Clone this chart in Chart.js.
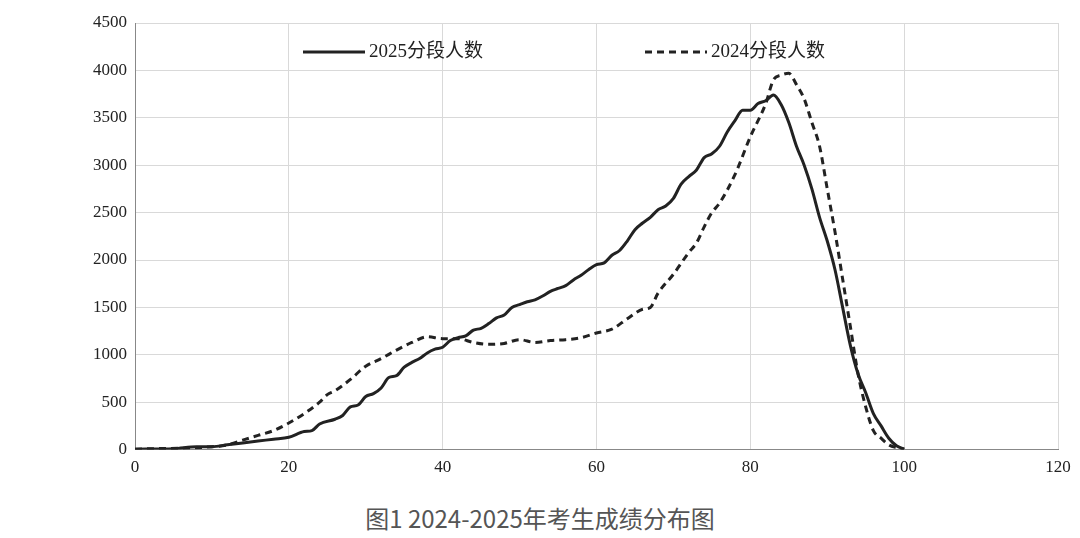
<!DOCTYPE html>
<html><head><meta charset="utf-8">
<script src="https://cdn.jsdelivr.net/npm/chart.js@4/dist/chart.umd.min.js"></script>
<style>
body{margin:0;background:#fff;width:1080px;height:538px;overflow:hidden}
#wrap{position:absolute;left:0;top:0;width:1080px;height:486px}
#cap{position:absolute;left:0;width:1080px;top:500px;text-align:center;font-family:"Noto Sans CJK SC","Liberation Serif",serif;font-size:24px;color:#555}
</style></head><body>
<div id="wrap"><canvas id="c"></canvas></div>
<div id="cap">图1 2024-2025年考生成绩分布图</div>
<script>
const scores2025=[0,5,8,10,12,14,16,18,20,22,23,24,26,27,28,29,30,31,32,33,34,35,36,37,38,39,40,41,42,43,44,45,46,47,48,49,50,51,52,53,54,55,56,57,58,59,60,61,62,63,64,65,66,67,68,69,70,71,72,73,74,75,76,77,78,79,80,81,82,83,84,85,86,87,88,89,90,91,92,93,94,95,96,97,98,99,100];
const count2025=[5,10,30,30,50,70,90,110,130,190,200,270,320,360,450,470,560,590,650,760,780,870,920,960,1020,1060,1080,1150,1180,1200,1260,1280,1330,1390,1420,1500,1530,1560,1580,1620,1670,1700,1730,1790,1840,1900,1950,1970,2050,2100,2200,2320,2390,2450,2530,2570,2650,2800,2880,2950,3080,3120,3200,3350,3470,3580,3580,3650,3680,3740,3640,3450,3200,3000,2750,2450,2200,1900,1500,1100,800,600,380,250,120,40,5];
const scores2024=[0,10,12,14,16,18,20,22,24,25,26,28,30,32,34,36,38,40,42,44,46,48,50,52,54,56,58,60,62,64,66,67,68,70,72,73,74,75,76,78,80,82,83,84,85,86,87,88,89,90,91,92,93,94,95,96,97,98,99,100];
const count2024=[5,30,50,100,150,200,280,380,500,580,620,740,880,960,1050,1130,1190,1170,1170,1130,1110,1120,1160,1130,1150,1160,1180,1230,1270,1380,1480,1500,1650,1850,2080,2180,2350,2500,2600,2900,3300,3650,3900,3950,3970,3850,3700,3450,3200,2750,2300,1800,1300,800,450,200,120,50,20,5];
const xTicks=[0,20,40,60,80,100,120];
const pts=(xs,ys)=>xs.map((x,i)=>({x,y:ys[i]}));
const legendPlugin={id:'lg',afterDraw(ch){const c=ch.ctx;const items=[[0,303,'2025分段人数'],[1,645,'2024分段人数']];
c.save();c.font='19px "Liberation Serif","Noto Sans CJK SC",serif';c.fillStyle='#222';c.textBaseline='middle';
items.forEach(([i,x,t])=>{const d=ch.data.datasets[i];c.strokeStyle=d.borderColor;c.lineWidth=d.borderWidth;c.setLineDash(d.borderDash||[]);c.beginPath();c.moveTo(x,52);c.lineTo(x+62,52);c.stroke();c.setLineDash([]);c.fillText(t,x+66,52);});c.restore();}};
new Chart(document.getElementById('c'),{type:'line',
data:{datasets:[
{label:'2025分段人数',data:pts(scores2025,count2025),borderColor:'#222',borderWidth:3,pointRadius:0,tension:0.4,cubicInterpolationMode:'monotone'},
{label:'2024分段人数',data:pts(scores2024,count2024),borderColor:'#222',borderWidth:3,borderDash:[7,5],pointRadius:0,tension:0.4,cubicInterpolationMode:'monotone'}]},
options:{responsive:true,maintainAspectRatio:false,animation:false,
layout:{padding:{left:0,right:22,top:23,bottom:0}},
plugins:{legend:{display:false},tooltip:{enabled:false}},
scales:{x:{type:'linear',min:0,max:120,afterBuildTicks:a=>{a.ticks=xTicks.map(v=>({value:v}))},
grid:{color:'#d9d9d9',drawTicks:false},border:{color:'#888'},ticks:{padding:8,color:'#222',font:{family:'Liberation Serif',size:17}}},
y:{min:0,max:4500,ticks:{stepSize:500,padding:8,color:'#222',callback:v=>String(v),font:{family:'Liberation Serif',size:17}},grid:{color:'#d9d9d9',drawTicks:false},border:{color:'#888'},afterFit:a=>{a.width=135}}}},
plugins:[legendPlugin]});
</script></body></html>
